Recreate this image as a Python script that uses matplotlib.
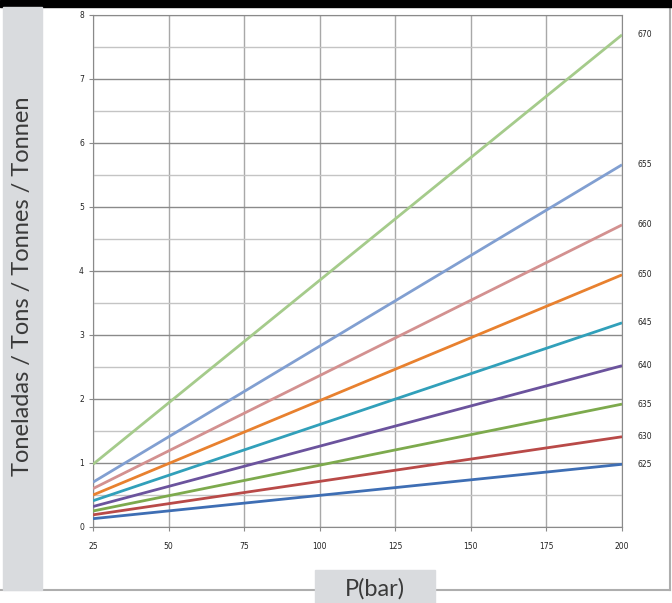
import matplotlib.pyplot as plt
from matplotlib.patches import Rectangle
from matplotlib.lines import Line2D

# pressure range (bar) and tonnage at both ends, per model
pressure = [25, 200]
models = ['625', '630', '635', '640', '645', '650', '660', '655', '670']
ton_start = [0.13, 0.19, 0.25, 0.32, 0.41, 0.50, 0.60, 0.70, 0.98]
ton_end = [0.98, 1.41, 1.92, 2.52, 3.19, 3.94, 4.72, 5.66, 7.69]
colors = ['#3E6EB4', '#B94A48', '#7DAA4D', '#6B539D', '#31A0BA',
          '#E8812F', '#D39190', '#819FD1', '#A5CB8B']

fig = plt.figure(figsize=(6.72, 6.03), dpi=100)
ax = fig.add_axes([93 / 672, 1 - 527 / 603, 529 / 672, 512 / 603])

for m, a, b, c in zip(models, ton_start, ton_end, colors):
    ax.plot(pressure, [a, b], color=c, lw=2, solid_capstyle='butt', zorder=3)
    ax.text(205, b, m, fontsize=5.5, va='center', ha='left', color='#222222',
            family=['Liberation Sans Narrow', 'DejaVu Sans'])

ax.set_xlim(25, 200)
ax.set_ylim(0, 8)
ax.set_xticks(range(25, 201, 25))
ax.set_yticks(range(0, 9))
ax.set_yticks([i + 0.5 for i in range(8)], minor=True)
ax.grid(which='major', axis='y', color='#8A8A8A', lw=1)
ax.grid(which='minor', axis='y', color='#C4C4C4', lw=1)
ax.grid(which='major', axis='x', color='#A8A8A8', lw=1)
ax.tick_params(which='minor', length=0)
ax.tick_params(which='major', length=3, color='#8A8A8A', labelsize=5.5,
               labelcolor='#222222')
ax.tick_params(axis='x', pad=8)
for lab in ax.get_xticklabels() + ax.get_yticklabels():
    lab.set_family(['Liberation Sans Narrow', 'DejaVu Sans'])
for s in ax.spines.values():
    s.set_color('#8A8A8A')

# frame decorations
W, H = 672, 603
fig.patches.append(Rectangle((0, 1 - 7 / H), 1, 7 / H, transform=fig.transFigure,
                             color='black', zorder=0))
fig.patches.append(Rectangle((3 / W, 1 - 590 / H), 39 / W, 583 / H,
                             transform=fig.transFigure, color='#D9DBDE', zorder=0))
fig.lines.append(Line2D([0, 670 / W], [1 - 590 / H] * 2, transform=fig.transFigure,
                        color='#AEAEAE', lw=1.5, zorder=0))
fig.lines.append(Line2D([670 / W] * 2, [1 - 590 / H, 1 - 7 / H], transform=fig.transFigure,
                        color='#AEAEAE', lw=1.5, zorder=0))
fig.patches.append(Rectangle((315 / W, 0), 120 / W, 33 / H, transform=fig.transFigure,
                             color='#D9DBDE', zorder=1))

fig.text(375 / W, 14 / H, 'P(bar)', fontsize=17, ha='center', va='center',
         color='#3A3A3A', family='Lato', zorder=5)
fig.text(23 / W, 1 - 286 / H, 'Toneladas / Tons / Tonnes / Tonnen', fontsize=17,
         rotation=90, ha='center', va='center', color='#3A3A3A', family='Lato',
         zorder=5)

fig.savefig('out.png', dpi=100)
